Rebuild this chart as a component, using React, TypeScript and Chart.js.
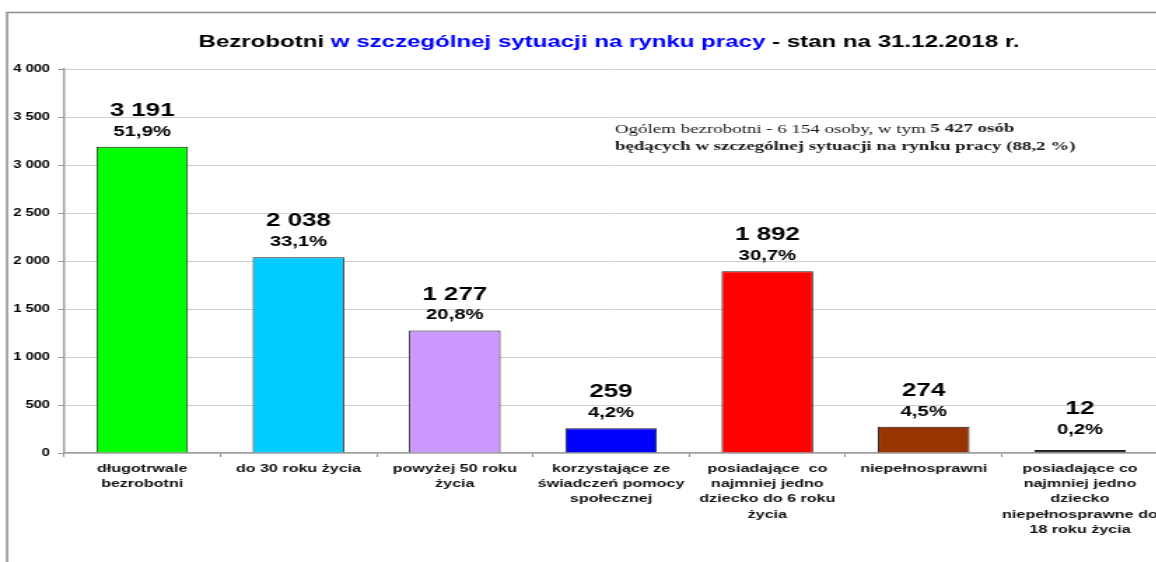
import React, { useEffect, useRef } from "react";
import { Chart, registerables } from "chart.js";

Chart.register(...registerables);

const categories: (string | string[])[] = [
  ["długotrwale", "bezrobotni"],
  "do 30 roku życia",
  ["powyżej 50 roku", "życia"],
  ["korzystające ze", "świadczeń pomocy", "społecznej"],
  ["posiadające  co", "najmniej jedno", "dziecko do 6 roku", "życia"],
  "niepełnosprawni",
  ["posiadające co", "najmniej jedno", "dziecko", "niepełnosprawne do", "18 roku życia"],
];
const values = [3191, 2038, 1277, 259, 1892, 274, 12];
const percents = ["51,9%", "33,1%", "20,8%", "4,2%", "30,7%", "4,5%", "0,2%"];
const barColors = ["#00ff00", "#00ccff", "#cc99ff", "#0000ff", "#ff0000", "#993300", "#333333"];
const yTicks = { min: 0, max: 4000, step: 500 };

const titleParts = [
  { text: "Bezrobotni ", color: "#000000" },
  { text: "w szczególnej sytuacji na rynku pracy", color: "#0000ff" },
  { text: " - stan na 31.12.2018 r.", color: "#000000" },
];
const noteLine1 = [
  { text: "Ogólem bezrobotni - 6 154 osoby, w tym ", bold: false },
  { text: "5 427 osób", bold: true },
];
const noteLine2 = "będących w szczególnej sytuacji na rynku pracy (88,2 %)";

const SX = 1.4; // horizontal stretch of the original image
const W = 831;
const H = 562;

const fmt = (v: number) => String(v).replace(/\B(?=(\d{3})+(?!\d))/g, " ");

const decorPlugin = {
  id: "decor",
  beforeDraw(chart: any) {
    const ctx = chart.ctx;
    ctx.save();
    ctx.fillStyle = "#ffffff";
    ctx.fillRect(0, 0, chart.width, chart.height);
    ctx.strokeStyle = "#8c8c8c";
    ctx.lineWidth = 1.5;
    ctx.beginPath();
    ctx.moveTo(5, H);
    ctx.lineTo(5, 12.5);
    ctx.lineTo(chart.width, 12.5);
    ctx.stroke();
    ctx.restore();
  },
  afterDatasetsDraw(chart: any) {
    const ctx = chart.ctx;
    ctx.save();
    // title
    ctx.font = "bold 17.2px 'Liberation Sans', Arial, sans-serif";
    ctx.textBaseline = "middle";
    ctx.textAlign = "left";
    const total = titleParts.reduce((s, p) => s + ctx.measureText(p.text).width, 0);
    let x = 609 / SX - total / 2;
    for (const p of titleParts) {
      ctx.fillStyle = p.color;
      ctx.fillText(p.text, x, 42);
      x += ctx.measureText(p.text).width;
    }
    // note
    ctx.fillStyle = "#1a1a1a";
    let nx = 615 / SX;
    for (const p of noteLine1) {
      ctx.font = `${p.bold ? "bold " : ""}13.5px 'Liberation Serif', 'Times New Roman', serif`;
      ctx.fillText(p.text, nx, 129);
      nx += ctx.measureText(p.text).width;
    }
    ctx.font = "bold 13.5px 'Liberation Serif', 'Times New Roman', serif";
    ctx.fillText(noteLine2, 615 / SX, 147);
    // data labels
    const meta = chart.getDatasetMeta(0);
    ctx.textAlign = "center";
    ctx.fillStyle = "#000000";
    meta.data.forEach((bar: any, i: number) => {
      const top = Math.min(bar.y, 445);
      ctx.font = "bold 18.5px 'Liberation Sans', Arial, sans-serif";
      ctx.fillText(fmt(values[i]), bar.x, top - 36);
      ctx.font = "bold 14.5px 'Liberation Sans', Arial, sans-serif";
      ctx.fillText(percents[i], bar.x, top - 15);
    });
    ctx.restore();
  },
};

export default function App() {
  const ref = useRef<HTMLCanvasElement>(null);
  useEffect(() => {
    if (!ref.current) return;
    const chart = new Chart(ref.current, {
      type: "bar",
      data: {
        labels: categories,
        datasets: [
          {
            data: values,
            backgroundColor: barColors,
            borderColor: "#1a1a1a",
            borderWidth: 1,
            minBarLength: 3,
            categoryPercentage: 1,
            barPercentage: 0.586,
          },
        ],
      },
      options: {
        animation: false,
        responsive: false,
        devicePixelRatio: 1,
        layout: { padding: { top: 69, left: 0, right: 0, bottom: 0 } },
        plugins: { legend: { display: false }, tooltip: { enabled: false }, title: { display: false } },
        scales: {
          x: {
            afterFit: (s: any) => {
              s.height = H - 453;
            },
            grid: { drawOnChartArea: false, tickLength: 4, color: "#909090", offset: true },
            border: { color: "#a0a0a0", width: 1.5 },
            ticks: {
              color: "#111111",
              padding: 4,
              maxRotation: 0,
              autoSkip: false,
              font: { family: "'Liberation Sans', Arial, sans-serif", size: 11.5, weight: "bold", lineHeight: 1.33 },
            },
          },
          y: {
            min: yTicks.min,
            max: yTicks.max,
            afterFit: (s: any) => {
              s.width = 64 / SX;
            },
            grid: { color: "#cfcfcf", tickLength: 4, tickColor: "#909090" },
            border: { color: "#a0a0a0", width: 1.5 },
            ticks: {
              stepSize: yTicks.step,
              color: "#000000",
              padding: 6,
              callback: (v: any) => fmt(Number(v)),
              font: { family: "'Liberation Sans', Arial, sans-serif", size: 10.5, weight: "bold" },
            },
          },
        },
      },
      plugins: [decorPlugin],
    });
    return () => chart.destroy();
  }, []);
  return (
    <div style={{ position: "fixed", left: 0, top: 0, width: 1156, height: H, overflow: "hidden", background: "#fff" }}>
      <div style={{ width: W, height: H, transform: `scaleX(${SX})`, transformOrigin: "0 0" }}>
        <canvas ref={ref} width={W} height={H} style={{ display: "block", width: W, height: H }} />
      </div>
    </div>
  );
}
